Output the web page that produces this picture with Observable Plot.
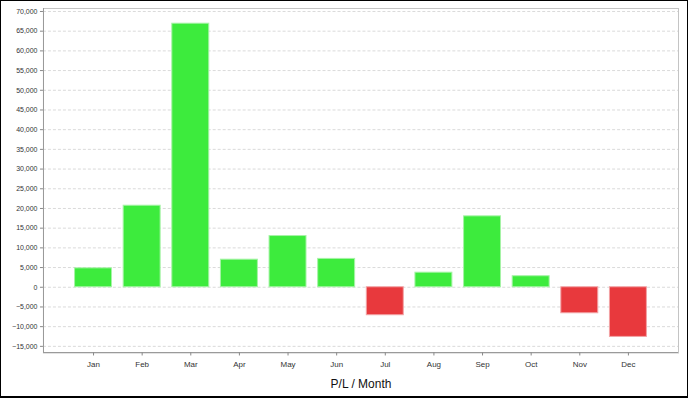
<!DOCTYPE html>
<html>
<head>
<meta charset="utf-8">
<script src="https://cdn.jsdelivr.net/npm/d3@7"></script>
<script src="https://cdn.jsdelivr.net/npm/@observablehq/plot@0.6"></script>
<style>
  html, body { margin: 0; padding: 0; background: #fff; }
  #wrap { position: relative; width: 688px; height: 398px; box-sizing: border-box; border: 1px solid #000; border-bottom-width: 2px; overflow: hidden; }
  #chart { position: absolute; left: -1px; top: -1px; }
</style>
</head>
<body>
<div id="wrap"><div id="chart"></div></div>
<script>
const months = ["Jan","Feb","Mar","Apr","May","Jun","Jul","Aug","Sep","Oct","Nov","Dec"];
const profitLoss = [4800, 20700, 66900, 7000, 13000, 7200, -7100, 3700, 18000, 2800, -6600, -12600];
const yTicks = [-15000,-10000,-5000,0,5000,10000,15000,20000,25000,30000,35000,40000,45000,50000,55000,60000,65000,70000];
const yDomain = [-16680, 70760];
const title = "P/L / Month";

const data = months.map((m, i) => ({month: m, value: profitLoss[i]}));
const green = "#3deb3d", red = "#e8393d";
const greenEdge = "#a6f3a6", redEdge = "#f2a3a5";

const axisLines = (index, scales, values, dims) => {
  const g = document.createElementNS("http://www.w3.org/2000/svg", "g");
  const x0 = dims.marginLeft, y0 = dims.height - dims.marginBottom, x1 = dims.width - dims.marginRight;
  const ln = (a, b, c, d) => {
    const l = document.createElementNS("http://www.w3.org/2000/svg", "line");
    l.setAttribute("x1", a); l.setAttribute("y1", b); l.setAttribute("x2", c); l.setAttribute("y2", d);
    l.setAttribute("stroke", "#9a9a9a"); l.setAttribute("shape-rendering", "crispEdges");
    g.appendChild(l);
  };
  ln(x0 + 0.5, dims.marginTop, x0 + 0.5, y0 + 0.5);
  ln(x0, y0 + 0.5, x1, y0 + 0.5);
  return g;
};

const chart = Plot.plot({
  width: 688,
  height: 398,
  marginLeft: 43,
  marginRight: 9,
  marginTop: 8,
  marginBottom: 45,
  style: {fontFamily: "'Liberation Sans', Arial, sans-serif", background: "transparent", color: "#333"},
  x: {domain: months, paddingInner: 0.24, paddingOuter: 0.65, round: false, label: null},
  y: {domain: yDomain, label: null},
  marks: [
    Plot.frame({stroke: "#c4c4c4", strokeWidth: 1}),
    Plot.gridY(yTicks, {stroke: "#dadada", strokeOpacity: 1, strokeDasharray: "3,2"}),
    Plot.barY(data, {
      x: "month", y: "value",
      fill: d => d.value >= 0 ? green : red,
      stroke: d => d.value >= 0 ? greenEdge : redEdge,
      strokeWidth: 1
    }),
    axisLines,
    Plot.axisY(yTicks, {tickSize: 3, tickPadding: 3, fontSize: 7, tickFormat: d3.format(","), stroke: "#888", fill: "#333", label: null}),
    Plot.axisX({tickSize: 3, tickPadding: 5, fontSize: 8, stroke: "#888", fill: "#333", label: null}),
    Plot.text([title], {frameAnchor: "bottom", dy: 31, lineAnchor: "middle", fontSize: 12, fill: "#111", text: d => d})
  ]
});
document.getElementById("chart").appendChild(chart);
</script>
</body>
</html>
